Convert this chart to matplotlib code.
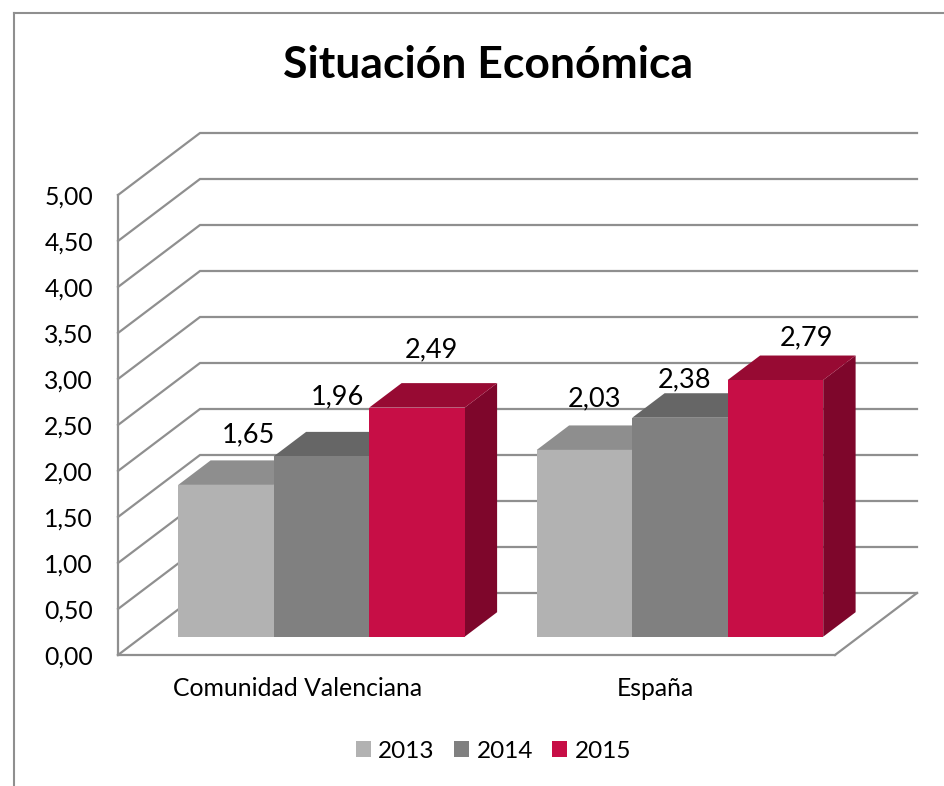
import matplotlib
matplotlib.use("Agg")
import matplotlib.pyplot as plt
from matplotlib.lines import Line2D
from matplotlib.patches import Patch, Polygon

plt.rcParams['font.family'] = ['Lato', 'DejaVu Sans']

# --- Data ---
categories = ["Comunidad Valenciana", "España"]
years = ["2013", "2014", "2015"]
values_2013 = [1.65, 2.03]
values_2014 = [1.96, 2.38]
values_2015 = [2.49, 2.79]
y_ticks = [0, 0.5, 1, 1.5, 2, 2.5, 3, 3.5, 4, 4.5, 5]

# front, top, side colours per series
colors = [("#b2b2b2", "#8e8e8e", "#858585"),
          ("#808080", "#666666", "#5c5c5c"),
          ("#c70e46", "#970a33", "#7e062b")]
# label offsets from bar centre/top, in pixels (placed by hand in the original)
label_offsets = [[(22, 50), (16, 60), (14, 58)],
                 [(10, 51), (5, 38), (31, 42)]]

W, H = 944, 786
fig = plt.figure(figsize=(W / 100, H / 100), dpi=100)

# frame of the chart area (only left and top reach inside the picture)
frame = "#8f8f8f"
fig.add_artist(Line2D([14 / W, 14 / W], [0, 1 - 13 / H], color=frame, lw=1.5))
fig.add_artist(Line2D([14 / W, 1], [1 - 13 / H, 1 - 13 / H], color=frame, lw=1.5))

ax = fig.add_axes([118 / W, 1 - 655 / H, 717 / W, 460 / H])
ax.set_xlim(0, 2)
ax.set_ylim(0, 5)
ax.patch.set_visible(False)

# depth of the fake 3D box, per unit d (0 front, 1 back), in data units
DX = 82 / 358.5
DY = 62 / 92


def p(x, y, d=0.0):
    return (x + d * DX, y + d * DY)


grid = "#8f8f8f"
for v in y_ticks:
    ax.plot(*zip(p(0, v), p(0, v, 1), p(2, v, 1)), color=grid, lw=1.6,
            clip_on=False, zorder=1, solid_joinstyle="miter")
ax.plot(*zip(p(2, 0, 1), p(2, 0)), color=grid, lw=1.6, clip_on=False, zorder=1)

# --- Bars ---
bar_w = 95.5 / 358.5
d0 = 18.3 / 62
d1 = d0 + 24.5 / 62
series = [values_2013, values_2014, values_2015]
z = 3
for c in range(len(categories)):
    left = c + 0.5 - 1.5 * bar_w
    for s, vals in enumerate(series):
        x0 = left + s * bar_w
        x1 = x0 + bar_w
        v = vals[c]
        front, top, side = colors[s]
        ax.add_patch(Polygon([p(x1, 0, d0), p(x1, 0, d1), p(x1, v, d1), p(x1, v, d0)],
                             fc=side, ec="none", clip_on=False, zorder=z))
        ax.add_patch(Polygon([p(x0, v, d0), p(x1, v, d0), p(x1, v, d1), p(x0, v, d1)],
                             fc=top, ec="none", clip_on=False, zorder=z))
        ax.add_patch(Polygon([p(x0, 0, d0), p(x1, 0, d0), p(x1, v, d0), p(x0, v, d0)],
                             fc=front, ec="none", clip_on=False, zorder=z + 1))
        z += 2
        ox, oy = label_offsets[c][s]
        ax.annotate(f"{v:.2f}".replace(".", ","), p((x0 + x1) / 2, v, d0),
                    xytext=(ox * 0.72, oy * 0.72), textcoords="offset points",
                    ha="center", va="center", fontsize=19.5, color="black", zorder=50)

# --- Axes ---
for name in ["top", "right"]:
    ax.spines[name].set_visible(False)
for name in ["left", "bottom"]:
    ax.spines[name].set_color(grid)
    ax.spines[name].set_linewidth(1.6)
ax.set_yticks(y_ticks)
ax.set_yticklabels([f"{v:.2f}".replace(".", ",") for v in y_ticks], fontsize=17.8)
ax.set_xticks([0.5, 1.5])
ax.set_xticklabels(categories, fontsize=17.8)
ax.tick_params(axis="y", length=0, pad=18)
ax.tick_params(axis="x", length=0, pad=16)

fig.text(488 / W, 1 - 65 / H, "Situación Económica", ha="center", va="center",
         fontsize=32, fontweight="bold", color="black")

handles = [Patch(fc=colors[i][0], ec="none") for i in range(3)]
fig.legend(handles, years, ncol=3, loc="center", bbox_to_anchor=(493.5 / W, 1 - 751 / H),
           frameon=False, fontsize=17.5, handlelength=0.62, handleheight=0.62,
           handletextpad=0.3, columnspacing=0.8)

fig.savefig("out.png", dpi=100)
